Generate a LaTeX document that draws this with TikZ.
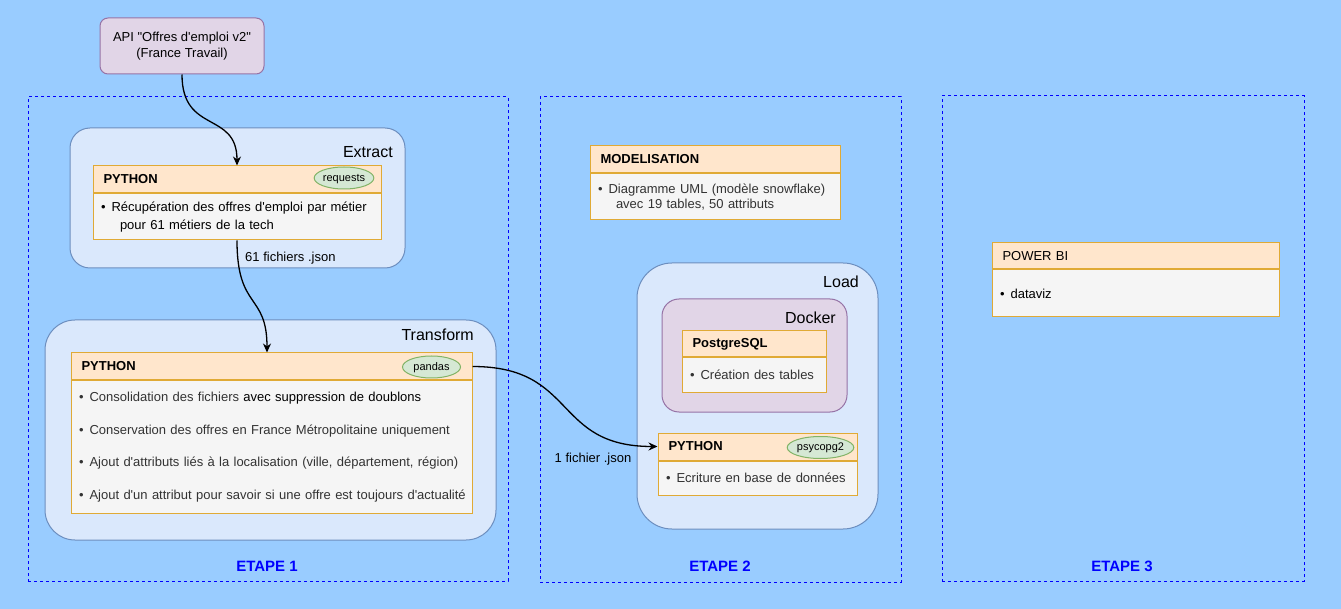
\documentclass[tikz,border=0pt]{standalone}
\usepackage{fontspec}
\setmainfont{Liberation Sans}[Ligatures=TeXOff]
\usetikzlibrary{arrows.meta,positioning,shapes.geometric}
\definecolor{bgblue}{HTML}{99CCFF}
\definecolor{etapeblue}{HTML}{0000FF}
\definecolor{zonefill}{HTML}{DAE8FC}
\definecolor{zoneline}{HTML}{6C8EBF}
\definecolor{viofill}{HTML}{E1D5E7}
\definecolor{violine}{HTML}{9673A6}
\definecolor{headfill}{HTML}{FFE6CC}
\definecolor{headline}{HTML}{E0AA35}
\definecolor{bodyfill}{HTML}{F5F5F5}
\definecolor{libfill}{HTML}{D5E8D4}
\definecolor{libline}{HTML}{82B366}
\definecolor{txtgray}{HTML}{333333}
\newcommand{\puce}{•\hspace{6pt}}

\begin{document}
\begin{tikzpicture}[x=1pt,y=-1pt,
		etape/.style={draw=etapeblue,dash pattern=on 3pt off 3pt,line width=1pt,inner sep=0pt},
		etapelbl/.style={text=etapeblue,font=\fontsize{15}{17}\selectfont\bfseries},
		zone/.style={draw=zoneline,fill=zonefill,line width=1pt,inner sep=0pt},
		violet/.style={draw=violine,fill=viofill,line width=1pt,inner sep=0pt},
		tag/.style={font=\fontsize{16}{19}\selectfont,anchor=east,inner sep=0pt},
		head/.style={draw=headline,fill=headfill,line width=1pt,inner xsep=10.5pt,inner ysep=0pt,minimum height=27pt,align=left,font=\fontsize{13}{15}\selectfont\bfseries},
		body/.style={draw=headline,fill=bodyfill,line width=1pt,inner xsep=8pt,inner ysep=0pt,align=left,font=\fontsize{13}{18.5}\selectfont},
		lib/.style={ellipse,draw=libline,fill=libfill,line width=1pt,minimum width=58pt,minimum height=22pt,inner sep=0pt,text depth=1pt,font=\fontsize{11}{13}\selectfont},
		fleche/.style={-{Stealth[length=9pt,width=8pt]},line width=1.3pt},
		lien/.style={font=\fontsize{13}{15}\selectfont,inner sep=0pt}]
		\useasboundingbox (0,0) rectangle (1341,609);
		\fill[bgblue] (0,0) rectangle (1341,609);
		% etapes
		\node[etape,minimum width=480pt,minimum height=484pt] (etape1) at (268,339) {};
		\node[etape,minimum width=361pt,minimum height=485pt] (etape2) at (720.5,339.5) {};
		\node[etape,minimum width=362pt,minimum height=485pt] (etape3) at (1123,338.5) {};
		\foreach \n/\x in {1/267,2/720,3/1122} \node[etapelbl] (lbl\n) at (\x,566) {ETAPE \n};
		% source
		\node[violet,rounded corners=8pt,minimum width=164pt,minimum height=56pt,align=center,font=\fontsize{13}{16}\selectfont] (api) at (182,46) {API "Offres d'emploi v2"\\(France Travail)};
		% zones
		\node[zone,rounded corners=20pt,minimum width=335pt,minimum height=140pt] (extract) at (237.5,198) {};
		\node[tag] (extractlbl) at (393,152) {Extract};
		\node[zone,rounded corners=30pt,minimum width=451pt,minimum height=220pt] (transform) at (270.5,430) {};
		\node[tag] (transformlbl) at (474,335) {Transform};
		\node[zone,rounded corners=35pt,minimum width=241pt,minimum height=266pt] (load) at (757.5,396) {};
		\node[tag] (loadlbl) at (859,282) {Load};
		\node[violet,rounded corners=17pt,minimum width=185pt,minimum height=113pt] (docker) at (754.5,355.5) {};
		\node[tag] (dockerlbl) at (836,318) {Docker};
		% extract
		\node[head,text width=267pt] (pyA) at (237,179.5) {PYTHON};
		\node[body,text width=272pt,minimum height=46pt,below=0pt of pyA] (pyAb) {\puce Récupération des offres d'emploi par métier\\\hspace*{19pt}pour 61 métiers de la tech};
		\node[lib] (requests) at (344,178) {requests};
		% transform
		\node[head,text width=380pt] (pyB) at (271.5,366.5) {PYTHON};
		\node[body,text width=385pt,minimum height=132pt,below=0pt of pyB,text=txtgray,font=\fontsize{13}{32.7}\selectfont] (pyBb) {\mbox{\puce Consolidation des fichiers \textcolor{black}{avec suppression de doublons}}\\\mbox{\puce Conservation des offres en France Métropolitaine uniquement}\\\mbox{\puce Ajout d'attributs liés à la localisation (ville, département, région)}\\\mbox{\puce Ajout d'un attribut pour savoir si une offre est toujours d'actualité}};
		\node[lib] (pandas) at (431.5,367) {pandas};
		% modelisation
		\node[head,text width=229pt] (modl) at (715,159.5) {MODELISATION};
		\node[body,text width=234pt,minimum height=46pt,below=0pt of modl,text=txtgray,font=\fontsize{13}{15.5}\selectfont] (modlb) {\puce Diagramme UML (modèle snowflake)\\\hspace*{18pt}avec 19 tables, 50 attributs};
		% load
		\node[head,text width=123pt,minimum height=26pt] (pg) at (754,344) {PostgreSQL};
		\node[body,text width=128pt,minimum height=34pt,below=0pt of pg,text=txtgray] (pgb) {\puce Création des tables};
		\node[head,text width=178pt] (pyC) at (757.5,446.5) {PYTHON};
		\node[body,text width=183pt,minimum height=34pt,below=0pt of pyC,text=txtgray] (pyCb) {\puce Ecriture en base de données};
		\node[lib] (psycopg) at (820.5,447.5) {psycopg2};
		% power bi
		\node[head,text width=266pt,minimum height=26pt,font=\fontsize{13}{15}\selectfont] (pbi) at (1135.5,256) {POWER BI};
		\node[body,text width=271pt,minimum height=47pt,below=0pt of pbi] (pbib) {\puce dataviz};
		% fleches
		\draw[fleche] (api.south) .. controls +(0,60) and +(0,-55) .. (pyA.north);
		\draw[fleche] (pyAb.south) .. controls +(0,70) and +(0,-60) .. ([xshift=-4.5pt]pyB.north);
		\node[lien,anchor=west] (jsonA) at (245,258) {61 fichiers .json};
		\draw[fleche] (pyB.east) .. controls +(105,0) and +(-105,0) .. (pyC.west);
		\node[lien] (jsonB) at (593,459) {1 fichier .json};
	\end{tikzpicture}
\end{document}
